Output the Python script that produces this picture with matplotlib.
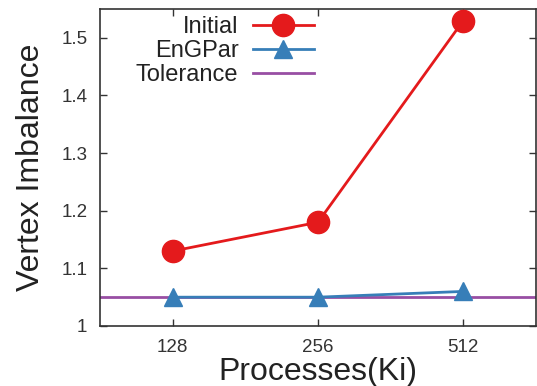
import matplotlib
matplotlib.use("Agg")
import matplotlib.pyplot as plt

plt.rcParams['font.family'] = ['Liberation Sans', 'DejaVu Sans']

processes = ["128", "256", "512"]
initial = [1.13, 1.18, 1.53]
engpar = [1.05, 1.05, 1.06]
tolerance = 1.05
yticks = [1.0, 1.1, 1.2, 1.3, 1.4, 1.5]
ytick_labels = ["1", "1.1", "1.2", "1.3", "1.4", "1.5"]

fig = plt.figure(figsize=(5.37, 3.86), dpi=100)
ax = fig.add_axes([100/537, 1-326/386, 436/537, 317/386])

x = list(range(len(processes)))
ax.plot(x, initial, color='#e41a1c', lw=2, marker='o', ms=16, label='Initial', zorder=3)
ax.plot(x, engpar, color='#377eb8', lw=2, marker='^', ms=13, label='EnGPar', zorder=3)
ax.axhline(tolerance, color='#984ea3', lw=2, label='Tolerance', zorder=2)

ax.set_xlim(-0.5, 2.5)
ax.set_ylim(1.0, 1.55)
ax.set_xticks(x)
ax.set_xticklabels(processes)
ax.set_yticks(yticks)
ax.set_yticklabels(ytick_labels)
ax.tick_params(direction='in', top=True, right=True, length=5, width=1,
               labelsize=13.5, colors='#333333', pad=9)
for s in ax.spines.values():
    s.set_color('#333333')
    s.set_linewidth(1.2)

ax.set_xlabel('Processes(Ki)', fontsize=23, color='#222222', labelpad=1)
ax.set_ylabel('Vertex Imbalance', fontsize=23, color='#222222', labelpad=11)

leg = ax.legend(loc='upper right', bbox_to_anchor=(314/537, 1-16/386),
                bbox_transform=fig.transFigure, frameon=False,
                markerfirst=False, fontsize=17, handlelength=2.6,
                labelspacing=0.08, handletextpad=0.6, borderaxespad=0, borderpad=0)
for t in leg.get_texts():
    t.set_color('#222222')

fig.savefig('out.png', dpi=100)
